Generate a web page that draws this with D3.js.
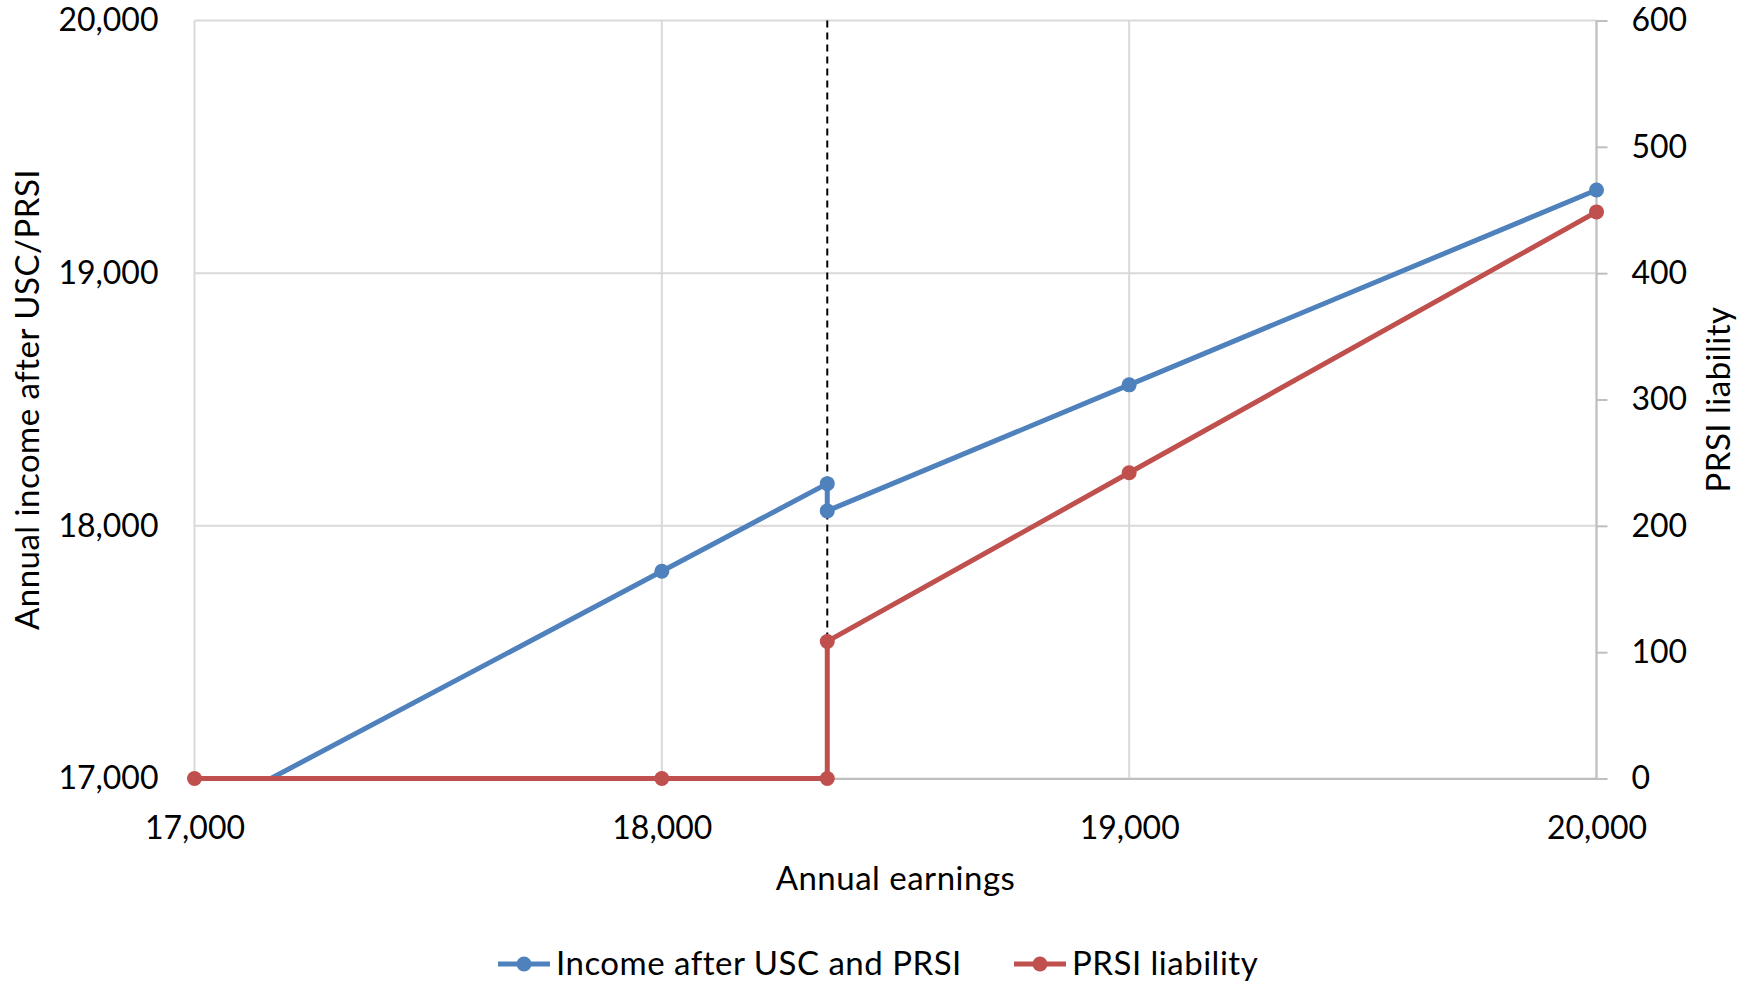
<!DOCTYPE html>
<html>
<head>
<meta charset="utf-8">
<script src="https://cdn.jsdelivr.net/npm/d3@7"></script>
<style>
  html, body { margin: 0; padding: 0; background: #fff; }
  svg { display: block; font-family: Lato, "Open Sans", sans-serif; }
</style>
</head>
<body>
<svg id="chart" width="1754" height="984"></svg>
<script>
// Annual earnings (x) with the PRSI threshold appearing twice for the step
const earnings = [17000, 18000, 18354, 18354, 19000, 20000];
// Income after USC and PRSI (left axis)
const incomeAfter = [16840, 17820, 18167, 18059, 18558, 19329];
// PRSI liability (right axis)
const prsiLiability = [0, 0, 0, 108.5, 242, 448.5];
// Earnings level at which PRSI becomes payable
const prsiThreshold = [18354];

const xTicks = [17000, 18000, 19000, 20000];
const leftTicks = [17000, 18000, 19000, 20000];
const rightTicks = [0, 100, 200, 300, 400, 500, 600];

const seriesNames = ["Income after USC and PRSI", "PRSI liability"];
const seriesColors = ["#4f81bd", "#c0504d"];

const margin = { left: 194.5, top: 20.5, right: 1754 - 1596.5, bottom: 984 - 778.5 };
const W = 1754, H = 984;
const iw = W - margin.left - margin.right;
const ih = H - margin.top - margin.bottom;

const svg = d3.select("#chart");
const g = svg.append("g").attr("transform", `translate(${margin.left},${margin.top})`);

const x = d3.scaleLinear().domain([17000, 20000]).range([0, iw]);
const yL = d3.scaleLinear().domain([17000, 20000]).range([ih, 0]);
const yR = d3.scaleLinear().domain([0, 600]).range([ih, 0]);

const fmt = d3.format(",");
const gridColor = "#d9d9d9";
const fontSize = 32;      // tick labels
const titleSize = 33;     // axis titles and legend
const titleSpacing = "0.5px";

// Gridlines
g.append("g").selectAll("line").data(xTicks).join("line")
  .attr("x1", d => x(d)).attr("x2", d => x(d))
  .attr("y1", 0).attr("y2", ih)
  .attr("stroke", gridColor).attr("stroke-width", 2);
g.append("g").selectAll("line").data(leftTicks).join("line")
  .attr("x1", 0).attr("x2", iw)
  .attr("y1", d => yL(d)).attr("y2", d => yL(d))
  .attr("stroke", gridColor).attr("stroke-width", 2);

// Right axis with outward ticks
const rightAxis = d3.axisRight(yR).tickValues(rightTicks).tickSize(11).tickFormat(d3.format("d")).tickPadding(24);
const ra = g.append("g").attr("transform", `translate(${iw},0)`).call(rightAxis);
ra.select(".domain").attr("stroke", "#bfbfbf").attr("stroke-width", 2).attr("d", `M0,0V${ih}`);
ra.selectAll(".tick line").attr("stroke", "#bfbfbf").attr("stroke-width", 2);
ra.selectAll(".tick text").attr("font-size", fontSize).attr("fill", "#000")
  .attr("font-family", "Lato, 'Open Sans', sans-serif");

// Left axis labels
const la = g.append("g").call(d3.axisLeft(yL).tickValues(leftTicks).tickSize(0).tickPadding(36).tickFormat(fmt));
la.select(".domain").remove();
la.selectAll(".tick text").attr("font-size", fontSize).attr("fill", "#000")
  .attr("font-family", "Lato, 'Open Sans', sans-serif");

// Bottom axis
const ba = g.append("g").attr("transform", `translate(0,${ih})`)
  .call(d3.axisBottom(x).tickValues(xTicks).tickSize(0).tickPadding(38).tickFormat(fmt));
ba.select(".domain").attr("stroke", "#bfbfbf").attr("stroke-width", 2);
ba.selectAll(".tick text").attr("font-size", fontSize).attr("fill", "#000")
  .attr("font-family", "Lato, 'Open Sans', sans-serif");

// Dashed threshold marker
g.append("g").selectAll("line").data(prsiThreshold).join("line")
  .attr("x1", d => x(d)).attr("x2", d => x(d))
  .attr("y1", 0).attr("y2", ih)
  .attr("stroke", "#000").attr("stroke-width", 2)
  .attr("stroke-dasharray", "7,5");

// Clip so the income line stops at the bottom of the plot
g.append("clipPath").attr("id", "plotClip")
  .append("rect").attr("x", -20).attr("y", -20).attr("width", iw + 40).attr("height", ih + 20);

const incomeData = earnings.map((e, i) => ({ x: e, y: incomeAfter[i] }));
const prsiData = earnings.map((e, i) => ({ x: e, y: prsiLiability[i] }));

const incomeLine = d3.line().x(d => x(d.x)).y(d => yL(d.y));
const prsiLine = d3.line().x(d => x(d.x)).y(d => yR(d.y));

const blue = g.append("g").attr("clip-path", "url(#plotClip)");
blue.append("path").datum(incomeData)
  .attr("d", incomeLine).attr("fill", "none")
  .attr("stroke", seriesColors[0]).attr("stroke-width", 5).attr("stroke-linejoin", "round");
blue.selectAll("circle").data(incomeData.filter(d => d.y >= 17000)).join("circle")
  .attr("cx", d => x(d.x)).attr("cy", d => yL(d.y)).attr("r", 7.5)
  .attr("fill", seriesColors[0]);

const red = g.append("g");
red.append("path").datum(prsiData)
  .attr("d", prsiLine).attr("fill", "none")
  .attr("stroke", seriesColors[1]).attr("stroke-width", 5).attr("stroke-linejoin", "round");
red.selectAll("circle").data(prsiData).join("circle")
  .attr("cx", d => x(d.x)).attr("cy", d => yR(d.y)).attr("r", 7.5)
  .attr("fill", seriesColors[1]);

// Axis titles
svg.append("text").attr("x", margin.left + iw / 2).attr("y", 890)
  .attr("text-anchor", "middle").attr("font-size", titleSize).attr("letter-spacing", titleSpacing)
  .text("Annual earnings");
svg.append("text").attr("transform", `translate(39,${margin.top + ih / 2}) rotate(-90)`)
  .attr("text-anchor", "middle").attr("font-size", titleSize).attr("letter-spacing", titleSpacing)
  .text("Annual income after USC/PRSI");
svg.append("text").attr("transform", `translate(1730,${margin.top + ih / 2}) rotate(-90)`)
  .attr("text-anchor", "middle").attr("font-size", titleSize).attr("letter-spacing", titleSpacing)
  .text("PRSI liability");

// Legend
const legendItems = [
  { name: seriesNames[0], color: seriesColors[0], x0: 498 },
  { name: seriesNames[1], color: seriesColors[1], x0: 1014 }
];
const lg = svg.append("g").attr("transform", "translate(0,964)");
const li = lg.selectAll("g").data(legendItems).join("g")
  .attr("transform", d => `translate(${d.x0},0)`);
li.append("line").attr("x1", 0).attr("x2", 52).attr("y1", 0).attr("y2", 0)
  .attr("stroke", d => d.color).attr("stroke-width", 5);
li.append("circle").attr("cx", 26).attr("cy", 0).attr("r", 7.5).attr("fill", d => d.color);
li.append("text").attr("x", 58).attr("y", 11).attr("font-size", titleSize)
  .attr("letter-spacing", titleSpacing).text(d => d.name);
</script>
</body>
</html>
